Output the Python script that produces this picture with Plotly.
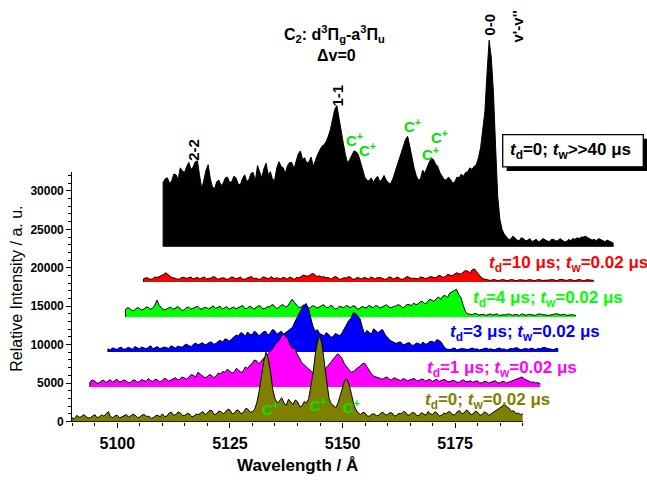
import plotly.graph_objects as go

# ---------------- data ----------------
# wavelength grid (Å, 0.5 Å step) shared by the time-gated spectra
wavelength = [5090 + 0.5 * i for i in range(201)]

# t_d = 0, t_w = 0.02 µs
spec_td0 = [500, 350, 800, 550, 600, 900, 700, 450, 500, 650,
            900, 500, 600, 850, 700, 1000, 1300, 600, 500, 750,
            800, 450, 600, 700, 900, 550, 700, 950, 800, 500,
            600, 850, 900, 650, 700, 400, 500, 750, 800, 600,
            1000, 650, 700, 1100, 1200, 800, 900, 1250, 1100, 750,
            800, 1050, 1000, 600, 700, 950, 900, 1100, 1300, 900,
            1100, 1450, 1400, 900, 1000, 1350, 1300, 1000, 1200, 1600,
            1500, 1000, 1100, 1500, 1400, 1000, 1200, 1700, 1600, 1200,
            1300, 1600, 2500, 4000, 6000, 7800, 9000, 8200, 6500, 4200,
            3000, 2400, 2700, 3100, 2400, 2100, 2900, 2500, 2200, 2800,
            2600, 1900, 2000, 2600, 2400, 3000, 4500, 6500, 9000, 10500,
            11200, 9800, 7500, 4800, 3000, 2300, 2000, 1800, 2400, 3300,
            4500, 5400, 5500, 4700, 3500, 2200, 1500, 1100, 900, 1200,
            1100, 700, 700, 950, 1000, 750, 800, 1100, 1200, 850,
            900, 1150, 1100, 700, 800, 1050, 1000, 1300, 1200, 800,
            900, 1200, 1100, 750, 800, 1150, 1000, 800, 1300, 1000,
            900, 1250, 1100, 700, 800, 1100, 1000, 1300, 1200, 850,
            900, 1300, 1400, 1000, 1100, 1500, 1300, 900, 1000, 1350,
            1200, 800, 900, 1250, 1100, 800, 1000, 1200, 1400, 1600,
            1800, 2000, 2200, 1900, 1700, 1300, 1400, 1000, 1100, 900,
            1000]

# t_d = 1 µs
spec_td1 = [600, 900, 800, 500, 500, 750, 900, 600, 700, 950,
            600, 800, 1000, 650, 700, 900, 800, 550, 600, 850,
            900, 600, 700, 950, 800, 700, 1100, 800, 700, 1000,
            900, 650, 800, 1100, 1000, 750, 900, 1000, 1200, 900,
            1000, 1300, 1100, 1000, 1300, 1600, 1500, 1300, 1900, 1700,
            1400, 1200, 1300, 1600, 1500, 1200, 1400, 1800, 1700, 2000,
            1900, 2300, 2100, 1800, 1900, 2400, 2200, 1900, 2000, 2600,
            2400, 2800, 3000, 3500, 3400, 3000, 3300, 3700, 3900, 4300,
            4600, 4900, 5300, 5800, 6000, 6600, 6900, 6500, 6200, 5400,
            5000, 5100, 4300, 3800, 3200, 2900, 2600, 2300, 2100, 1900,
            1800, 2100, 2000, 1700, 2300, 2500, 2800, 3200, 3600, 4000,
            4300, 4100, 3700, 3000, 2600, 2200, 1900, 2000, 2300, 2500,
            2700, 3000, 3100, 2600, 2200, 1700, 1400, 1300, 1200, 1000,
            1000, 1200, 1300, 1000, 900, 1200, 1100, 900, 800, 1050,
            1000, 800, 900, 1100, 1100, 850, 800, 1000, 1000, 750,
            900, 1000, 700, 850, 1000, 700, 800, 950, 900, 650,
            700, 850, 800, 600, 600, 850, 900, 650, 700, 800,
            600, 750, 800, 550, 500, 700, 700, 500, 600, 750,
            800, 550, 500, 700, 700, 500, 600, 800, 800, 900,
            1000, 1150, 1300, 1000, 900, 700, 600, 650, 500, 550,
            400]

# t_d = 3 µs
spec_td3 = [400, 250, 500, 450, 300, 550, 600, 350, 400, 600,
            500, 350, 700, 500, 400, 650, 500, 400, 600, 800,
            400, 550, 700, 450, 500, 650, 600, 450, 800, 600,
            500, 750, 700, 600, 900, 1000, 800, 700, 1000, 1150,
            900, 1100, 1200, 950, 1000, 1250, 1300, 1000, 1100, 1400,
            1500, 1300, 1700, 1600, 1400, 1700, 1900, 2200, 2100, 2500,
            2400, 2000, 2600, 2300, 2200, 2700, 2500, 2100, 2300, 2600,
            2700, 2200, 2400, 2900, 2800, 2300, 2500, 2700, 2300, 2500,
            2700, 3000, 3200, 3900, 4500, 5200, 5600, 6000, 6300, 5700,
            4600, 3400, 2700, 2900, 2400, 2200, 2100, 2500, 2300, 1900,
            2000, 2400, 2200, 2100, 2500, 3000, 3600, 4100, 4400, 5100,
            5000, 4700, 4300, 3200, 2300, 2800, 2600, 2300, 3000, 2700,
            2500, 2800, 2900, 2300, 1900, 1600, 1400, 1200, 1100, 1250,
            1300, 950, 1000, 1150, 1200, 850, 900, 1150, 1100, 950,
            1300, 1000, 1100, 1350, 1400, 1200, 1600, 1500, 1300, 800,
            400, 350, 300, 450, 500, 250, 300, 450, 400, 300,
            300, 450, 500, 350, 400, 250, 300, 450, 500, 350,
            400, 300, 300, 450, 500, 350, 400, 250, 300, 450,
            400, 550, 500, 300, 300, 450, 400, 350, 500, 400,
            300, 450, 400, 550, 600, 450, 400, 300, 300, 450,
            400]

# t_d = 4 µs
spec_td4 = [1000, 1200, 1100, 800, 900, 1150, 1200, 900, 1000, 1250,
            1300, 1000, 1100, 1500, 2200, 1500, 1200, 900, 1000, 1200,
            1300, 1000, 1100, 1350, 1200, 850, 900, 1200, 1300, 1000,
            1100, 1300, 1400, 1100, 1000, 1250, 1200, 1050, 1300, 1450,
            1100, 1300, 1400, 1000, 1200, 1350, 1000, 1150, 1300, 1050,
            1200, 1450, 1500, 1100, 1100, 1400, 1300, 1000, 1200, 1450,
            1400, 1050, 1100, 1350, 1300, 1600, 1500, 1100, 1200, 1500,
            1600, 1300, 1400, 1800, 2300, 1900, 1600, 1200, 1300, 1550,
            1500, 1100, 1200, 1450, 1400, 1150, 1300, 1500, 1600, 1250,
            1200, 1500, 1400, 1000, 1100, 1400, 1300, 1200, 1500, 1300,
            1200, 1450, 1400, 1000, 1100, 1350, 1300, 1150, 1500, 1300,
            1200, 1500, 1400, 1150, 1300, 1450, 1600, 1300, 1200, 1350,
            1400, 1600, 1500, 1200, 1300, 1650, 1600, 1500, 1800, 1600,
            1700, 2000, 2000, 1700, 1900, 2300, 2200, 2000, 2400, 2600,
            2300, 2700, 2800, 2500, 3100, 3300, 3400, 3600, 2900, 2500,
            1500, 700, 400, 350, 300, 450, 400, 250, 300, 350,
            200, 350, 400, 250, 300, 400, 200, 300, 300, 250,
            400, 300, 200, 350, 300, 200, 400, 250, 200, 350,
            300, 250, 200, 350, 400, 300, 300, 250, 200, 300,
            300, 400, 400, 250, 300, 350, 200, 300, 300, 250,
            200]

# t_d = 10 µs
spec_td10 = [400, 550, 500, 350, 400, 650, 600, 700, 800, 1000,
             1200, 900, 700, 550, 500, 350, 400, 600, 600, 450,
             500, 650, 400, 500, 600, 400, 500, 650, 400, 450,
             500, 700, 600, 350, 400, 550, 500, 350, 400, 650,
             600, 400, 500, 650, 400, 350, 500, 600, 700, 450,
             500, 350, 400, 650, 600, 450, 500, 700, 400, 550,
             500, 400, 600, 450, 400, 650, 500, 350, 600, 550,
             700, 900, 800, 750, 900, 1100, 1000, 700, 800, 650,
             700, 550, 600, 400, 500, 700, 600, 350, 400, 550,
             500, 700, 600, 350, 400, 600, 500, 400, 600, 450,
             400, 650, 500, 400, 600, 550, 500, 350, 400, 650,
             600, 400, 500, 650, 400, 350, 500, 700, 600, 450,
             500, 400, 400, 650, 600, 450, 500, 650, 700, 550,
             600, 850, 800, 600, 700, 1000, 900, 800, 1000, 1200,
             1100, 1000, 1300, 1500, 1400, 1200, 1600, 1700, 1300, 900,
             600, 400, 300, 250, 200, 300, 300, 200, 200, 300,
             300, 200, 200, 300, 300, 200, 200, 300, 250, 200,
             200, 300, 300, 200, 200, 300, 300, 200, 200, 250,
             250, 300, 300, 200, 200, 350, 300, 200, 200, 300,
             300, 200, 200, 300, 300, 200, 200, 300, 250, 200,
             200]

# time-integrated spectrum (t_d = 0, t_w >> 40 µs), own wavelength grid
wavelength_int = [5089 + 0.5 * i for i in range(211)]
spec_integrated = [8300, 8800, 8900, 8200, 8500, 9400, 9300, 8700, 10200, 9800,
                   9600, 10400, 10900, 10000, 10300, 11000, 11100, 9200, 7500, 8600,
                   9900, 10600, 8800, 7700, 7500, 8400, 8600, 7900, 8200, 8900,
                   9000, 8300, 8400, 9100, 8900, 8100, 8000, 8800, 9300, 8400,
                   8700, 9500, 9600, 8500, 10500, 9700, 8900, 10100, 10800, 9300,
                   9700, 8700, 8600, 10200, 11000, 10400, 10200, 9500, 10500, 10900,
                   10900, 10100, 11200, 12000, 12400, 11300, 11500, 10800, 11000, 11600,
                   10400, 11200, 11900, 12500, 13000, 13200, 13600, 14300, 15200, 16500,
                   17800, 18300, 16500, 14800, 13400, 11900, 10800, 11300, 11900, 12400,
                   12300, 11900, 11000, 9800, 9000, 8600, 8500, 8900, 8300, 8800,
                   9100, 8400, 8700, 9200, 8600, 8300, 8100, 8700, 9500, 10400,
                   11300, 12200, 13000, 13900, 14300, 13000, 11500, 10200, 9200, 8600,
                   8800, 9900, 9500, 10300, 10900, 11400, 11300, 10700, 10400, 9600,
                   9200, 8700, 8600, 9000, 8700, 8200, 8400, 9000, 8900, 9400,
                   9100, 9600, 9700, 10200, 10000, 10400, 10600, 11500, 12800, 15000,
                   17500, 22500, 26800, 24500, 20000, 13000, 6500, 3500, 2200, 1600,
                   1300, 900, 900, 1300, 1100, 800, 700, 1100, 1000, 700,
                   800, 1000, 600, 800, 900, 600, 700, 1000, 800, 700,
                   600, 900, 900, 700, 700, 1000, 800, 600, 600, 900,
                   700, 1000, 900, 1100, 1000, 1200, 1200, 1300, 1100, 900,
                   800, 900, 700, 1000, 900, 700, 600, 800, 700, 500,
                   400]

x_ticks = [5100, 5125, 5150, 5175]
y_ticks = [0, 5000, 10000, 15000, 20000, 25000, 30000]

# ---------------- layout geometry (pixels) ----------------
W, H = 647, 482
L, R, T, B = 72.3, 522.7, 175.0, 427.7
X0, X1 = 5090, 5190
Y0, Y1 = 0, 32400
SX = (R - L) / (X1 - X0)          # px per Å
SY = (B - T) / (Y1 - Y0)          # px per a.u.

# inset wavelength scale for the integrated spectrum
INS_PX, INS_LAM, INS_SX = 336.0, 5129.3, 4.29
INS_BASE = 22800

FONT = "Liberation Sans, Arial, sans-serif"


def px(x):
    return x / W


def py(y):
    return 1 - y / H


fig = go.Figure()

# invisible anchor trace so the main axes are drawn
fig.add_trace(go.Scatter(x=[X0, X1], y=[Y0, Y0], mode="lines",
                         line=dict(width=0), hoverinfo="skip",
                         xaxis="x", yaxis="y"))

# waterfall: (values, x-shift Å, y-offset a.u., fill colour); back to front
waterfall = [
    (spec_td10, 15.8, 18150, "#FF0000"),
    (spec_td4, 11.8, 13600, "#00FF00"),
    (spec_td3, 7.9, 9050, "#0000FF"),
    (spec_td1, 3.9, 4500, "#FF00FF"),
    (spec_td0, 0.0, 0, "#808000"),
]

for vals, shift, base, col in waterfall:
    xs = [w + shift for w in wavelength]
    fig.add_trace(go.Scatter(x=[xs[0], xs[-1]], y=[base, base], mode="lines",
                             line=dict(width=0, color=col), hoverinfo="skip",
                             xaxis="x2", yaxis="y2"))
    fig.add_trace(go.Scatter(x=[xs[0]] + xs, y=[base] + [base + v for v in vals],
                             mode="lines", fill="tonexty", fillcolor=col,
                             line=dict(color="black", width=1),
                             hoverinfo="skip", xaxis="x2", yaxis="y2"))

# integrated spectrum in its own inset frame
fig.add_trace(go.Scatter(x=[wavelength_int[0], wavelength_int[-1]], y=[INS_BASE, INS_BASE],
                         mode="lines", line=dict(width=1, color="black"),
                         hoverinfo="skip", xaxis="x3", yaxis="y3"))
fig.add_trace(go.Scatter(x=[wavelength_int[0]] + wavelength_int,
                         y=[INS_BASE] + [INS_BASE + v for v in spec_integrated],
                         mode="lines", fill="tonexty", fillcolor="black",
                         line=dict(color="black", width=1),
                         hoverinfo="skip", xaxis="x3", yaxis="y3"))

hidden = dict(visible=False, showgrid=False, zeroline=False)
ins_lo = INS_LAM - INS_PX / INS_SX
ins_hi = INS_LAM + (W - INS_PX) / INS_SX

fig.update_layout(
    width=W, height=H, margin=dict(l=0, r=0, t=0, b=0),
    paper_bgcolor="white", plot_bgcolor="rgba(0,0,0,0)", showlegend=False,
    font=dict(family=FONT, color="black"),
    xaxis=dict(domain=[px(L), px(R)], range=[X0, X1], anchor="y",
               showline=True, linecolor="black", linewidth=1.3,
               ticks="outside", ticklen=5, tickwidth=1.2, tickcolor="black",
               tickvals=x_ticks, ticktext=[str(v) for v in x_ticks],
               ticklabelstandoff=2,
               minor=dict(dtick=5, tick0=5100, ticks="outside", ticklen=3,
                          tickwidth=1, tickcolor="black"),
               showgrid=False, zeroline=False,
               tickfont=dict(size=16, family=FONT, color="black", weight="bold")),
    yaxis=dict(domain=[py(B), py(T)], range=[Y0, Y1], anchor="x",
               showline=True, linecolor="black", linewidth=1.3,
               ticks="outside", ticklen=5, tickwidth=1.2, tickcolor="black",
               tickvals=y_ticks, ticktext=[str(v) for v in y_ticks],
               minor=dict(dtick=1000, tick0=0, ticks="outside", ticklen=3,
                          tickwidth=1, tickcolor="black"),
               showgrid=False, zeroline=False,
               tickfont=dict(size=12, family=FONT, color="black", weight="bold")),
    xaxis2=dict(domain=[px(L), 1], range=[X0, X0 + (W - L) / SX], anchor="y2", **hidden),
    yaxis2=dict(domain=[py(B), 1], range=[Y0, Y0 + B / SY], anchor="x2", **hidden),
    xaxis3=dict(domain=[0, 1], range=[ins_lo, ins_hi], anchor="y3", **hidden),
    yaxis3=dict(domain=[py(B), 1], range=[Y0, Y0 + B / SY], anchor="x3", **hidden),
)

# legend-style box with drop shadow
fig.add_shape(type="rect", xref="paper", yref="paper",
              x0=px(506.7), x1=px(647.3), y0=py(173.5), y1=py(140.7),
              fillcolor="black", line=dict(width=0), layer="above")
fig.add_shape(type="rect", xref="paper", yref="paper",
              x0=px(502.7), x1=px(643.3), y0=py(169.3), y1=py(136.7),
              fillcolor="white", line=dict(color="black", width=1.3), layer="above")


def note(x, y, text, size=15, color="black", bold=True, angle=0, xanchor="center"):
    fig.add_annotation(x=px(x), y=py(y), xref="paper", yref="paper", text=text,
                       showarrow=False, textangle=angle, xanchor=xanchor,
                       yanchor="middle",
                       font=dict(size=size, color=color, family=FONT,
                                 weight="bold" if bold else "normal"))


note(570, 153, "<i>t</i><sub>d</sub>=0; <i>t</i><sub>w</sub>>>40 μs", size=17)

# band system title
note(334, 34, "C<sub>2</sub>: d<sup>3</sup>Π<sub>g</sub>-a<sup>3</sup>Π<sub>u</sub>", size=16)
note(336, 56, "Δv=0", size=16)

# vibrational band labels
note(194, 152, "2-2", size=15, angle=-90)
note(338, 97, "1-1", size=15, angle=-90)
note(490, 25, "0-0", size=15, angle=-90)
note(518, 27, "v'-v''", size=15, angle=-90)

# C+ lines
GREEN = "#00E400"
for (cx, cy) in [(354, 142), (367, 152), (412, 127), (430, 156), (439, 139),
                 (270, 415), (318, 410), (351, 412)]:
    note(cx, cy, "C<sup>+</sup>", size=15, color=GREEN)

# series labels
label_pos = [(487, 268, "#FF0000", "10"), (471, 303, "#00FF00", "4"),
             (448, 338, "#0000FF", "3"), (425, 374, "#FF00FF", "1"),
             (423, 407, "#808000", "0")]
for (lx, ly, col, td) in label_pos:
    unit = "" if td == "0" else " μs"
    note(lx, ly, f"<i>t</i><sub>d</sub>={td}{unit}; <i>t</i><sub>w</sub>=0.02 μs",
         size=17, color=col, xanchor="left")

# axis titles
note(297.5, 472, "Wavelength / Å", size=17)
note(17, 293, "Relative Intensity / a. u.", size=16, bold=False, angle=-90)

fig.write_html("out.html")
